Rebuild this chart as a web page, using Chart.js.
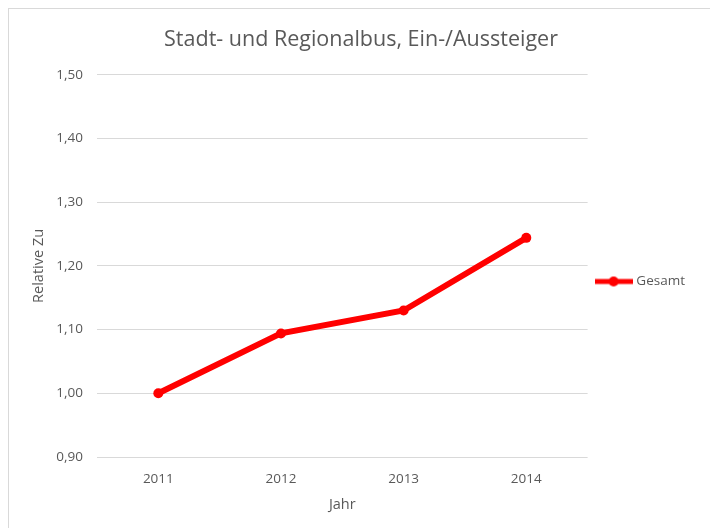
<!DOCTYPE html>
<html>
<head>
<meta charset="utf-8">
<script src="https://cdn.jsdelivr.net/npm/chart.js@4"></script>
<style>
  body { margin: 0; background: #fff; }
  #box { position: absolute; left: 8px; top: 8px; width: 720px; height: 540px; border: 1px solid #d9d9d9; }
  canvas { display: block; }
</style>
</head>
<body>
<div id="box"><canvas id="chart" width="701" height="519"></canvas></div>
<script>
  const jahre = ["2011", "2012", "2013", "2014"];
  const gesamt = [1.000, 1.094, 1.130, 1.244];
  const yTicks = [0.9, 1.0, 1.1, 1.2, 1.3, 1.4, 1.5];

  const grau = "#595959";
  const rot = "#ff0000";
  const schrift = "'Open Sans', 'Noto Sans', sans-serif";

  // Legendensymbol wie in Excel: Linie mit Punkt
  const symbol = document.createElement("canvas");
  symbol.width = 38;
  symbol.height = 12;
  const sctx = symbol.getContext("2d");
  sctx.strokeStyle = rot;
  sctx.lineWidth = 5;
  sctx.beginPath();
  sctx.moveTo(0, 6);
  sctx.lineTo(38, 6);
  sctx.stroke();
  sctx.fillStyle = rot;
  sctx.beginPath();
  sctx.arc(19, 6, 5, 0, Math.PI * 2);
  sctx.fill();

  // Legende etwas nach unten schieben (wie im Original)
  const legendeVerschieben = {
    id: "legendeVerschieben",
    afterLayout(chart) {
      chart.legend.top += 18;
      chart.legend.bottom += 18;
    }
  };

  const ctx = document.getElementById("chart").getContext("2d");
  new Chart(ctx, {
    type: "line",
    data: {
      labels: jahre,
      datasets: [{
        label: "Gesamt",
        data: gesamt,
        borderColor: rot,
        backgroundColor: rot,
        borderWidth: 6,
        pointRadius: 5,
        pointBackgroundColor: rot,
        pointBorderWidth: 0,
        tension: 0,
        fill: false
      }]
    },
    plugins: [legendeVerschieben],
    options: {
      responsive: false,
      animation: false,
      layout: { padding: { left: 18, top: 0, right: 15, bottom: 10 } },
      plugins: {
        title: {
          display: true,
          text: "Stadt- und Regionalbus, Ein-/Aussteiger",
          color: grau,
          font: { family: schrift, size: 21.5, weight: "normal" },
          padding: { top: 18, bottom: 22 }
        },
        legend: {
          position: "right",
          labels: {
            color: grau,
            font: { family: schrift, size: 13.5 },
            usePointStyle: true,
            pointStyleWidth: 32,
            padding: 10,
            generateLabels: (chart) => chart.data.datasets.map((ds, i) => ({
              text: ds.label,
              pointStyle: symbol,
              fontColor: grau,
              datasetIndex: i,
              lineWidth: 0
            }))
          }
        },
        tooltip: { enabled: false }
      },
      scales: {
        x: {
          offset: true,
          grid: { display: false },
          border: { display: false },
          ticks: { color: grau, font: { family: schrift, size: 13.5 }, padding: 6 },
          title: {
            display: true,
            text: "Jahr",
            color: grau,
            font: { family: schrift, size: 14.5 },
            padding: { top: 4, bottom: 4 }
          },
          afterFit: (s) => { s.height = 61; }
        },
        y: {
          min: 0.9,
          max: 1.5,
          afterBuildTicks: (s) => { s.ticks = yTicks.map(v => ({ value: v })); },
          grid: { color: "#d9d9d9", lineWidth: 1, drawTicks: false },
          border: { display: false },
          ticks: {
            color: grau,
            font: { family: schrift, size: 13.5 },
            padding: 14,
            callback: (v) => v.toFixed(2).replace(".", ",")
          },
          title: {
            display: true,
            text: "Relative Zu",
            color: grau,
            font: { family: schrift, size: 14.5 },
            padding: { top: 3, bottom: 4 }
          },
          afterFit: (s) => { s.width = 70; }
        }
      }
    }
  });
</script>
</body>
</html>
